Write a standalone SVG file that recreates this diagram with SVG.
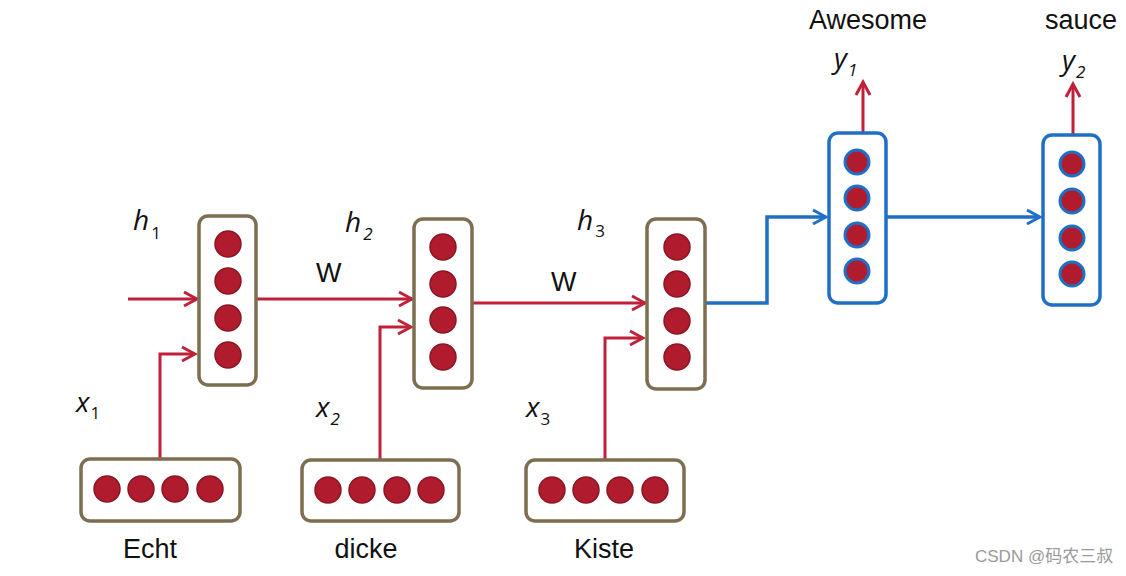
<svg xmlns="http://www.w3.org/2000/svg" width="1126" height="576" viewBox="0 0 1126 576">
<style>
.box{fill:#fff;stroke:#7D6E51;stroke-width:3.5}
.bbox{fill:#fff;stroke:#1F6FC6;stroke-width:3.5}
.dot{fill:#B01B2E;stroke:#8A1624;stroke-width:1.5}
.bdot{fill:#B01B2E;stroke:#1F6FC6;stroke-width:3}
.red{fill:none;stroke:#C0213A;stroke-width:3}
.blue{fill:none;stroke:#1F6FC6;stroke-width:3.5}
.lbl{font-family:"Liberation Sans","Open Sans",sans-serif;font-size:27px;fill:#111}
.it{font-family:"Open Sans","Liberation Sans",sans-serif;font-style:italic;font-size:28px;fill:#111}
.sub{font-size:17px}
.up{font-style:normal}
.wm{font-family:"Liberation Sans","Noto Sans CJK SC",sans-serif;font-size:17px;fill:#9a9a9a}
</style>
<defs>
<marker id="ar" markerUnits="userSpaceOnUse" markerWidth="18" markerHeight="18" viewBox="0 0 18 18" refX="15" refY="9" orient="auto">
<path d="M2,2 L15,9 L2,16" fill="none" stroke="#C0213A" stroke-width="3"/>
</marker>
<marker id="ab" markerUnits="userSpaceOnUse" markerWidth="18" markerHeight="18" viewBox="0 0 18 18" refX="15" refY="9" orient="auto">
<path d="M2,2 L15,9 L2,16" fill="none" stroke="#1F6FC6" stroke-width="3"/>
</marker>
</defs>
<rect width="1126" height="576" fill="#fff"/>
<g id="connectors">
<path class="red" d="M128,299 H197" marker-end="url(#ar)"/>
<path class="red" d="M256,299 H412" marker-end="url(#ar)"/>
<path class="red" d="M472,303 H645" marker-end="url(#ar)"/>
<path class="red" d="M160,458 V354 H195" marker-end="url(#ar)"/>
<path class="red" d="M380,459 V327 H411" marker-end="url(#ar)"/>
<path class="red" d="M605,460 V338 H643" marker-end="url(#ar)"/>
<path class="blue" d="M705,303 H767 V217 H826" marker-end="url(#ab)"/>
<path class="blue" d="M886,217 H1040" marker-end="url(#ab)"/>
<path class="red" d="M863,133 V82" marker-end="url(#ar)"/>
<path class="red" d="M1073,135 V84" marker-end="url(#ar)"/>
</g>
<g id="h1node">
<rect class="box" x="199" y="216" width="57" height="169" rx="9"/>
<circle class="dot" cx="228" cy="244" r="13"/>
<circle class="dot" cx="228" cy="281" r="13"/>
<circle class="dot" cx="228" cy="318" r="13"/>
<circle class="dot" cx="228" cy="355" r="13"/>
</g>
<g id="h2node">
<rect class="box" x="414" y="219" width="58" height="169" rx="9"/>
<circle class="dot" cx="443" cy="247" r="13"/>
<circle class="dot" cx="443" cy="284" r="13"/>
<circle class="dot" cx="443" cy="320" r="13"/>
<circle class="dot" cx="443" cy="357" r="13"/>
</g>
<g id="h3node">
<rect class="box" x="647" y="219" width="58" height="170" rx="9"/>
<circle class="dot" cx="677" cy="247" r="13"/>
<circle class="dot" cx="677" cy="284" r="13"/>
<circle class="dot" cx="677" cy="321" r="13"/>
<circle class="dot" cx="677" cy="357" r="13"/>
</g>
<g id="y1node">
<rect class="bbox" x="829" y="133" width="57" height="170" rx="9"/>
<circle class="bdot" cx="857" cy="162" r="12"/>
<circle class="bdot" cx="857" cy="198" r="12"/>
<circle class="bdot" cx="857" cy="235" r="12"/>
<circle class="bdot" cx="857" cy="271" r="12"/>
</g>
<g id="y2node">
<rect class="bbox" x="1043" y="135" width="57" height="170" rx="9"/>
<circle class="bdot" cx="1072" cy="164" r="12"/>
<circle class="bdot" cx="1072" cy="201" r="12"/>
<circle class="bdot" cx="1072" cy="238" r="12"/>
<circle class="bdot" cx="1072" cy="274" r="12"/>
</g>
<g id="x1node">
<rect class="box" x="81" y="459" width="159" height="62" rx="9"/>
<circle class="dot" cx="107" cy="489" r="13"/>
<circle class="dot" cx="141" cy="489" r="13"/>
<circle class="dot" cx="175" cy="489" r="13"/>
<circle class="dot" cx="210" cy="489" r="13"/>
</g>
<g id="x2node">
<rect class="box" x="302" y="460" width="157" height="61" rx="9"/>
<circle class="dot" cx="328" cy="490" r="13"/>
<circle class="dot" cx="362" cy="490" r="13"/>
<circle class="dot" cx="397" cy="490" r="13"/>
<circle class="dot" cx="431" cy="490" r="13"/>
</g>
<g id="x3node">
<rect class="box" x="526" y="460" width="158" height="61" rx="9"/>
<circle class="dot" cx="552" cy="490" r="13"/>
<circle class="dot" cx="586" cy="490" r="13"/>
<circle class="dot" cx="620" cy="490" r="13"/>
<circle class="dot" cx="655" cy="490" r="13"/>
</g>
<g id="labels">
<text class="it" x="133" y="230">h<tspan class="sub up" dx="2" dy="9">1</tspan></text>
<text class="it" x="345" y="232">h<tspan class="sub" dx="2" dy="8">2</tspan></text>
<text class="it" x="577" y="230">h<tspan class="sub up" dx="2" dy="7">3</tspan></text>
<text class="lbl" x="316" y="282">W</text>
<text class="lbl" x="551" y="291">W</text>
<text class="it" x="76" y="412">x<tspan class="sub up" dx="1" dy="7">1</tspan></text>
<text class="it" x="316" y="417">x<tspan class="sub" dx="1" dy="8">2</tspan></text>
<text class="it" x="526" y="417">x<tspan class="sub up" dx="1" dy="8">3</tspan></text>
<text class="it" x="834" y="68">y<tspan class="sub" dx="1" dy="8">1</tspan></text>
<text class="it" x="1062" y="70">y<tspan class="sub" dx="1" dy="8">2</tspan></text>
<text class="lbl" x="868" y="29" text-anchor="middle">Awesome</text>
<text class="lbl" x="1081" y="29" text-anchor="middle">sauce</text>
<text class="lbl" x="150" y="558" text-anchor="middle">Echt</text>
<text class="lbl" x="366" y="558" text-anchor="middle">dicke</text>
<text class="lbl" x="604" y="558" text-anchor="middle">Kiste</text>
<text class="wm" x="975" y="562">CSDN @码农三叔</text>
</g>
</svg>
